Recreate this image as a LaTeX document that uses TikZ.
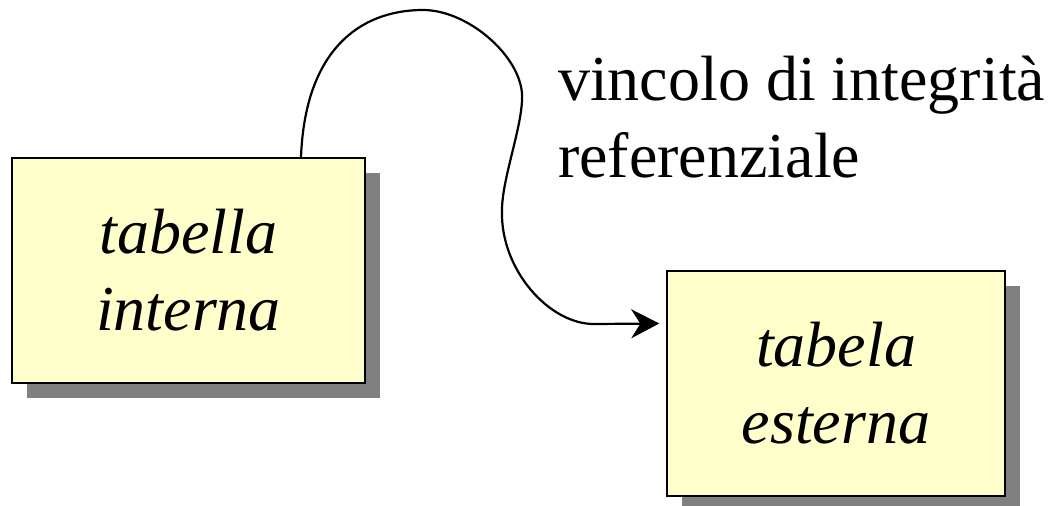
\documentclass[tikz,border=0pt]{standalone}
\usepackage{fontspec}
\setmainfont{Liberation Serif}
\usetikzlibrary{arrows.meta,shadows}
\definecolor{boxfill}{HTML}{FFFFCC}
\definecolor{shadowgray}{HTML}{808080}
\tikzset{
  table/.style={draw=black, line width=1.5pt, fill=boxfill, align=center,
    font=\fontsize{64}{77}\selectfont\itshape, inner sep=0pt,
    drop shadow={shadow xshift=15pt, shadow yshift=-15pt, fill=shadowgray, opacity=1}},
  link/.style={line width=2.2pt, -{Stealth[length=28pt,width=29pt,inset=9pt]}},
  caption/.style={align=left, font=\fontsize{64}{77}\selectfont, inner sep=0pt}
}
\begin{document}
\begin{tikzpicture}[x=1pt,y=-1pt]
  \useasboundingbox (0,0) rectangle (1053,506);
  \node[table, minimum width=353pt, minimum height=225pt] (int) at (188.5,270.5) {tabella\\interna};
  \node[table, minimum width=338pt, minimum height=225pt] (ext) at (836,383.5) {tabela\\esterna};
  \node[caption, anchor=base west] (lab) at (558,177) {vincolo di integrità\\referenziale};
  \coordinate (s) at ([xshift=112.5pt]int.north);
  \coordinate (e) at ([shift={(-7pt,60pt)}]ext.west);
  \draw[link] (s) .. controls (305,50) and (360,10) .. (423,10)
      .. controls (470,10) and (525,60) .. (522,100)
      .. controls (521,130) and (502,180) .. (502,210)
      .. controls (500,270) and (550,325) .. (595,324)
      -- (e);
\end{tikzpicture}
\end{document}
